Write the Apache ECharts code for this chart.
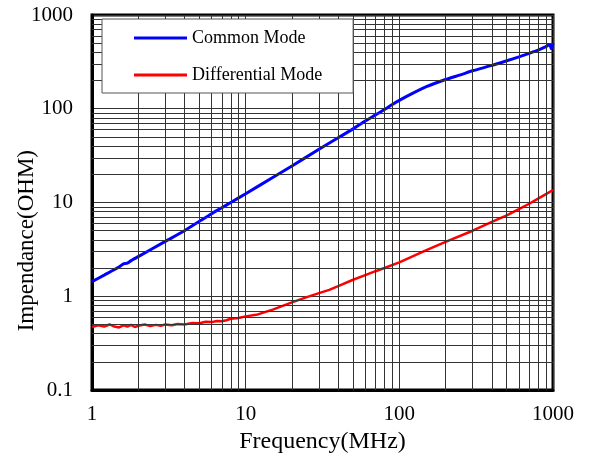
<!DOCTYPE html>
<html>
<head>
<meta charset="utf-8">
<script src="https://cdn.jsdelivr.net/npm/echarts@6/dist/echarts.min.js"></script>
<style>html,body{margin:0;padding:0;background:#fff}#c{width:594px;height:460px}</style>
</head>
<body>
<div id="c"></div>
<script>
var commonFreq = [1,1.2,1.5,1.6,1.7,1.8,2,3,4,5,6,7,8,10,15,20,30,40,50,60,70,80,90,100,120,150,200,250,300,400,500,600,700,800,900,950,975,1000];
var commonZ    = [1.43,1.68,2.05,2.22,2.25,2.4,2.65,3.85,5.0,6.3,7.6,8.8,10.0,12.4,18.5,24.5,37,49,61,74,86,98,111,123,144,172,205,230,254,290,325,358,390,422,460,485,438,500];
var diffFreq = [1,1.1,1.2,1.3,1.4,1.5,1.6,1.7,1.8,1.9,2,2.2,2.4,2.6,2.8,3,3.3,3.6,4,4.5,5,5.5,6,6.5,7,7.5,8,9,10,12,15,20,25,30,35,40,50,60,70,80,100,150,200,300,400,500,600,700,800,900,1000];
var diffZ    = [0.47,0.49,0.475,0.5,0.475,0.465,0.49,0.475,0.495,0.47,0.485,0.5,0.48,0.495,0.485,0.5,0.49,0.505,0.5,0.52,0.515,0.535,0.53,0.545,0.54,0.555,0.575,0.585,0.61,0.64,0.72,0.86,0.98,1.08,1.17,1.28,1.5,1.68,1.85,2.0,2.3,3.1,3.8,5.0,6.2,7.3,8.5,9.7,11,12.3,13.6];
var xMinorTicks = [2,3,4,5,6,7,8,9,20,30,40,50,60,70,80,90,200,300,400,500,600,700,800,900];
var yMinorTicks = [0.2,0.3,0.4,0.5,0.6,0.7,0.8,0.9,2,3,4,5,6,7,8,9,20,30,40,50,60,70,80,90,200,300,400,500,600,700,800,900];
var seriesNames = ['Common Mode','Differential Mode'];
var xTitle = 'Frequency(MHz)';
var yTitle = 'Impendance(OHM)';

function pairs(xs, ys){ return xs.map(function(x,i){ return [x, ys[i]]; }); }
function plain(v){ return String(+v.toPrecision(6)); }

var font = 'Liberation Serif';
var chart = echarts.init(document.getElementById('c'));
var minorLines = xMinorTicks.map(function(v){ return {xAxis: v}; })
  .concat(yMinorTicks.map(function(v){ return {yAxis: v}; }));

chart.setOption({
  animation: false,
  backgroundColor: '#fff',
  grid: {left: 92, top: 15, right: 41, bottom: 70, show: true, borderColor: '#000', borderWidth: 3, backgroundColor: 'transparent'},
  legend: {
    data: seriesNames, zlevel: 1, z: 10,
    orient: 'vertical', left: 102, top: 19,
    padding: [9, 31, 8, 32], itemGap: 17, itemWidth: 53, itemHeight: 3,
    icon: 'rect',
    backgroundColor: '#fff', borderColor: '#555', borderWidth: 1,
    textStyle: {fontFamily: font, fontSize: 18, color: '#000', lineHeight: 20}
  },
  xAxis: {
    type: 'log', logBase: 10, min: 1, max: 1000,
    name: xTitle, nameLocation: 'middle', nameGap: 33,
    nameTextStyle: {fontFamily: font, fontSize: 24, color: '#000'},
    axisLine: {show: true, lineStyle: {color: '#000', width: 3}},
    axisTick: {show: false},
    axisLabel: {fontFamily: font, fontSize: 21, color: '#000', margin: 14, formatter: plain},
    splitLine: {show: true, lineStyle: {color: '#333', width: 1}}
  },
  yAxis: {
    type: 'log', logBase: 10, min: 0.1, max: 1000,
    axisLine: {show: true, lineStyle: {color: '#000', width: 3}},
    axisTick: {show: false},
    axisLabel: {fontFamily: font, fontSize: 21, color: '#000', margin: 19, formatter: plain},
    splitLine: {show: true, lineStyle: {color: '#333', width: 1}}
  },
  graphic: [{
    type: 'text', left: 15, top: 150, rotation: Math.PI / 2,
    style: {text: yTitle, font: '23px "Liberation Serif"', fill: '#000'}
  }],
  series: [
    {
      name: 'minor', type: 'line', data: [], z: 1, silent: true,
      markLine: {silent: true, symbol: ['none','none'], label: {show: false},
        lineStyle: {color: '#333', width: 1, type: 'solid'}, emphasis: {disabled: true},
        data: minorLines}
    },
    {
      name: seriesNames[0], type: 'line', data: pairs(commonFreq, commonZ), z: 3,
      showSymbol: false, symbol: 'none', color: '#0000ff', smooth: 0.2,
      lineStyle: {color: '#0000ff', width: 3}
    },
    {
      name: seriesNames[1], type: 'line', data: pairs(diffFreq, diffZ), z: 3,
      showSymbol: false, symbol: 'none', color: '#ff0000',
      lineStyle: {color: '#ff0000', width: 2.5}
    }
  ]
});
</script>
</body>
</html>
